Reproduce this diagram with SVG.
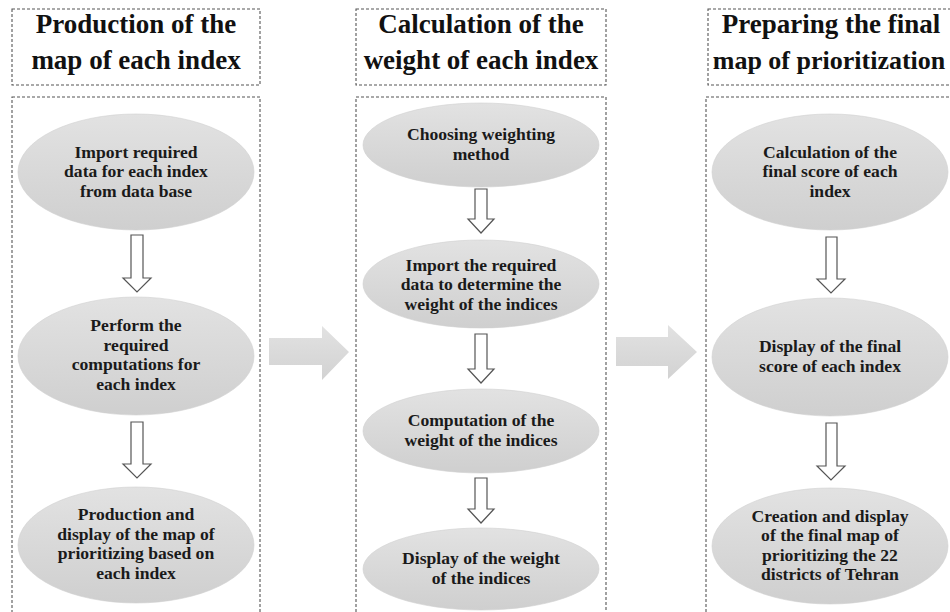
<svg xmlns="http://www.w3.org/2000/svg" width="950" height="612" viewBox="0 0 950 612">
<style>
.box{fill:none;stroke:#555;stroke-width:1.1;stroke-dasharray:3,2}
.title{font-family:"Liberation Serif","Times New Roman",serif;font-weight:bold;font-size:27px;fill:#111;text-anchor:middle}
.lbl{font-family:"Liberation Serif","Times New Roman",serif;font-weight:bold;font-size:17.6px;fill:#1a1a1a;text-anchor:middle}
.ell{fill:url(#eg);stroke:#d0d0d0;stroke-width:0.6}
.sa{fill:#fff;stroke:#555;stroke-width:1.2;stroke-linejoin:miter}
.ba{fill:url(#ag)}
</style>
<defs>
<linearGradient id="eg" x1="0" y1="0" x2="0" y2="1">
<stop offset="0" stop-color="#e2e2e2"/>
<stop offset="1" stop-color="#cfcfcf"/>
</linearGradient>
<linearGradient id="ag" x1="0" y1="0" x2="0" y2="1">
<stop offset="0" stop-color="#e2e2e2"/>
<stop offset="1" stop-color="#d2d2d2"/>
</linearGradient>
</defs>
<rect width="950" height="612" fill="#fff"/>

<g id="title-left">
<rect class="box" x="12" y="9" width="248" height="76"/>
<text class="title" x="136" y="33">Production of the</text>
<text class="title" x="136" y="69">map of each index</text>
</g>
<g id="title-middle">
<rect class="box" x="356" y="9" width="250" height="76"/>
<text class="title" x="481" y="33">Calculation of the</text>
<text class="title" x="481" y="69">weight of each index</text>
</g>
<g id="title-right">
<rect class="box" x="708" y="9" width="260" height="76"/>
<text class="title" x="831" y="33">Preparing the final</text>
<text class="title" x="829" y="69" style="font-size:26px">map of prioritization</text>
</g>

<g id="panel-left"><rect class="box" x="12" y="97" width="248" height="530"/></g>
<g id="panel-middle"><rect class="box" x="356" y="97" width="250" height="530"/></g>
<g id="panel-right"><rect class="box" x="706" y="97" width="260" height="530"/></g>

<g id="n-l1">
<ellipse class="ell" cx="136" cy="172" rx="118" ry="58"/>
<text class="lbl" x="136" y="157.5">Import required</text>
<text class="lbl" x="136" y="177">data for each index</text>
<text class="lbl" x="136" y="196.5">from data base</text>
</g>
<g id="n-l2">
<ellipse class="ell" cx="136" cy="356" rx="118" ry="59"/>
<text class="lbl" x="136" y="331">Perform the</text>
<text class="lbl" x="136" y="350.5">required</text>
<text class="lbl" x="136" y="370">computations for</text>
<text class="lbl" x="136" y="389.5">each index</text>
</g>
<g id="n-l3">
<ellipse class="ell" cx="136" cy="545" rx="118" ry="58"/>
<text class="lbl" x="136" y="520">Production and</text>
<text class="lbl" x="136" y="539.5">display of the map of</text>
<text class="lbl" x="136" y="559">prioritizing based on</text>
<text class="lbl" x="136" y="578.5">each index</text>
</g>

<g id="n-m1">
<ellipse class="ell" cx="481" cy="145" rx="118" ry="42"/>
<text class="lbl" x="481" y="140">Choosing weighting</text>
<text class="lbl" x="481" y="159.5">method</text>
</g>
<g id="n-m2">
<ellipse class="ell" cx="481" cy="284" rx="118" ry="44"/>
<text class="lbl" x="481" y="270.5">Import the required</text>
<text class="lbl" x="481" y="290">data to determine the</text>
<text class="lbl" x="481" y="309.5">weight of the indices</text>
</g>
<g id="n-m3">
<ellipse class="ell" cx="481" cy="431" rx="118" ry="42"/>
<text class="lbl" x="481" y="426">Computation of the</text>
<text class="lbl" x="481" y="445.5">weight of the indices</text>
</g>
<g id="n-m4">
<ellipse class="ell" cx="481" cy="569" rx="118" ry="41"/>
<text class="lbl" x="481" y="564">Display of the weight</text>
<text class="lbl" x="481" y="583.5">of the indices</text>
</g>

<g id="n-r1">
<ellipse class="ell" cx="830" cy="172" rx="118" ry="58"/>
<text class="lbl" x="830" y="157.5">Calculation of the</text>
<text class="lbl" x="830" y="177">final score of each</text>
<text class="lbl" x="830" y="196.5">index</text>
</g>
<g id="n-r2">
<ellipse class="ell" cx="830" cy="357" rx="118" ry="59"/>
<text class="lbl" x="830" y="352">Display of the final</text>
<text class="lbl" x="830" y="371.5">score of each index</text>
</g>
<g id="n-r3">
<ellipse class="ell" cx="830" cy="546" rx="118" ry="58"/>
<text class="lbl" x="830" y="521.5">Creation and display</text>
<text class="lbl" x="830" y="541">of the final map of</text>
<text class="lbl" x="830" y="560.5">prioritizing the 22</text>
<text class="lbl" x="830" y="580">districts of Tehran</text>
</g>

<g id="connectors">
<path class="sa" d="M131,235 H143 V278 H151 L137,292 L123,278 H131 Z"/>
<path class="sa" d="M131,422 H143 V464 H151 L137,478 L123,464 H131 Z"/>
<path class="sa" d="M475,189 H487 V219 H494 L481,233 L468,219 H475 Z"/>
<path class="sa" d="M475,334 H487 V369 H494 L481,383 L468,369 H475 Z"/>
<path class="sa" d="M475,478 H487 V509 H494 L481,523 L468,509 H475 Z"/>
<path class="sa" d="M826,237 H837 V279 H845 L831,293 L817,279 H826 Z"/>
<path class="sa" d="M826,423 H837 V466 H845 L831,480 L817,466 H826 Z"/>
<path class="ba" d="M269,338 H322 V326 L349,352 L322,380 V365 H269 Z"/>
<path class="ba" d="M616,337 H668 V325 L697,352 L668,379 V366 H616 Z"/>
</g>
</svg>
